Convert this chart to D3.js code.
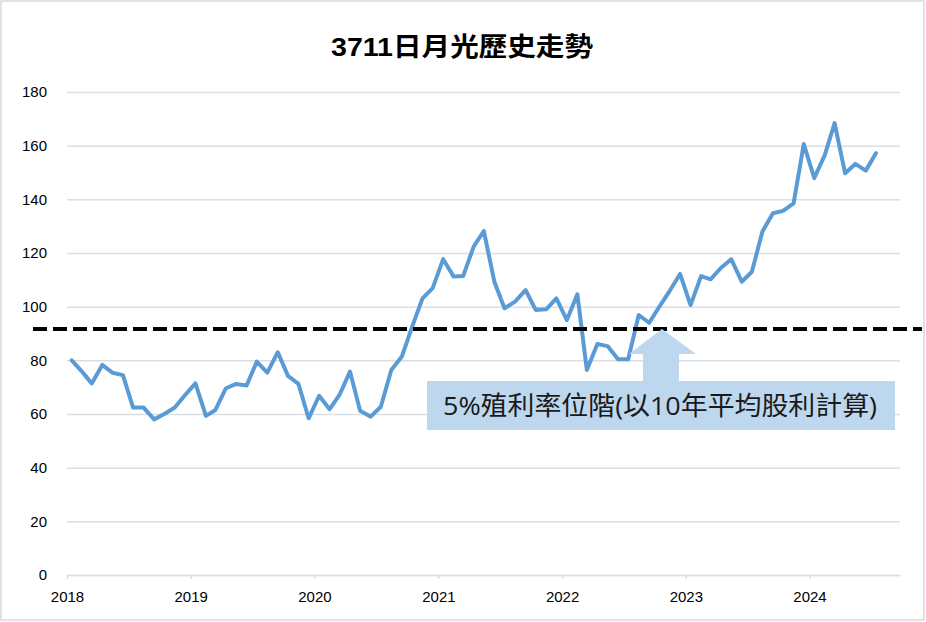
<!DOCTYPE html>
<html lang="zh-Hant">
  <head>
    <meta charset="utf-8">
    <title>3711日月光歷史走勢</title>
    <style>
      body {
          margin: 0;
          background: white;
      }
      svg {
          display: block;
      }
      .axis text {
          font-family: "Liberation Sans", Arial, sans-serif;
          font-size: 15px;
          fill: #000;
      }
    </style>
    <script src="https://d3js.org/d3.v7.min.js"></script>
  </head>
  <body>
    <div class="viz"></div>
    <script>

    // monthly closing price, Jan 2018 - Jul 2024
    const months = [
      "2018-01","2018-02","2018-03","2018-04","2018-05","2018-06","2018-07","2018-08","2018-09","2018-10","2018-11","2018-12",
      "2019-01","2019-02","2019-03","2019-04","2019-05","2019-06","2019-07","2019-08","2019-09","2019-10","2019-11","2019-12",
      "2020-01","2020-02","2020-03","2020-04","2020-05","2020-06","2020-07","2020-08","2020-09","2020-10","2020-11","2020-12",
      "2021-01","2021-02","2021-03","2021-04","2021-05","2021-06","2021-07","2021-08","2021-09","2021-10","2021-11","2021-12",
      "2022-01","2022-02","2022-03","2022-04","2022-05","2022-06","2022-07","2022-08","2022-09","2022-10","2022-11","2022-12",
      "2023-01","2023-02","2023-03","2023-04","2023-05","2023-06","2023-07","2023-08","2023-09","2023-10","2023-11","2023-12",
      "2024-01","2024-02","2024-03","2024-04","2024-05","2024-06","2024-07"
    ]
    const prices = [
      80, 75.7, 71.4, 78.3, 75.4, 74.5, 62.4, 62.4, 58, 60, 62.4, 67,
      71.4, 59.3, 61.5, 69.6, 71.2, 70.6, 79.5, 75.4, 83, 74.2, 71.2, 58.4,
      66.8, 61.8, 67.1, 75.8, 61.2, 59, 62.7, 76.4, 81.4, 92.4, 103.1, 106.9,
      117.7, 111.2, 111.4, 122.4, 128.2, 109.3, 99.4, 101.9, 106.2, 98.8, 99, 103.1,
      95, 104.6, 76.4, 86.1, 85.3, 80.4, 80.4, 96.9, 94, 100, 106, 112.2,
      100.6, 111.4, 110.2, 114.5, 117.7, 109.3, 113, 128, 134.8, 135.7, 138.5, 160.6,
      147.9, 156.5, 168.4, 149.7, 153.2, 150.7, 157.2
    ]
    const yTicks = [0, 20, 40, 60, 80, 100, 120, 140, 160, 180]
    const yieldLevel = 91.7
    const chartTitle = "3711日月光歷史走勢"
    const noteText = "5%殖利率位階(以10年平均股利計算)"

    const width = 926, height = 622
    const margin = { top: 92, right: 26, bottom: 47, left: 67 }

    const parseMonth = d3.timeParse("%Y-%m")
    const data = months.map((m, i) => ({
      date: d3.timeDay.offset(parseMonth(m), 14),
      price: prices[i]
    }))

    const svg = d3.select(".viz")
      .append("svg")
      .attr("width", width)
      .attr("height", height)

    // chart frame
    svg.append("rect")
      .attr("x", 1).attr("y", 1)
      .attr("width", width - 3).attr("height", height - 3)
      .attr("fill", "white")
      .attr("stroke", "#d9d9d9")
      .attr("stroke-width", 1.5)

    const x = d3.scaleTime()
      .domain([new Date(2018, 0, 1), new Date(2024, 8, 24)])
      .range([margin.left, width - margin.right])

    const y = d3.scaleLinear()
      .domain([0, 180])
      .range([height - margin.bottom, margin.top])

    // y gridlines + labels
    const yAxis = svg.append("g")
      .attr("class", "axis")
      .attr("transform", `translate(${margin.left},0)`)
      .call(d3.axisLeft(y).tickValues(yTicks)
        .tickSize(-(width - margin.right - margin.left))
        .tickPadding(20))
    yAxis.select(".domain").remove()
    yAxis.selectAll(".tick line")
      .attr("stroke", "#dadee5")
      .attr("stroke-width", 1.5)

    // x axis
    const xAxis = svg.append("g")
      .attr("class", "axis")
      .attr("transform", `translate(0,${y(0)})`)
      .call(d3.axisBottom(x).ticks(d3.timeYear.every(1))
        .tickFormat(d3.timeFormat("%Y"))
        .tickSizeInner(4).tickSizeOuter(0).tickPadding(12))
    xAxis.select(".domain").attr("stroke", "#dadee5").attr("stroke-width", 1.5)
    xAxis.selectAll(".tick line").attr("stroke", "#dadee5").attr("stroke-width", 1.5)

    // price line
    const line = d3.line()
      .x(d => x(d.date))
      .y(d => y(d.price))

    svg.append("path")
      .datum(data)
      .attr("d", line)
      .attr("fill", "none")
      .attr("stroke", "#5b9bd5")
      .attr("stroke-width", 4)
      .attr("stroke-linejoin", "round")
      .attr("stroke-linecap", "round")

    // 5% yield level
    svg.append("line")
      .attr("x1", 33).attr("x2", 922)
      .attr("y1", y(yieldLevel)).attr("y2", y(yieldLevel))
      .attr("stroke", "black")
      .attr("stroke-width", 4)
      .attr("stroke-dasharray", "14 6")

    // arrow + note box
    const tipX = 662, tipY = y(yieldLevel)
    const boxTop = 381
    const arrow = d3.path()
    arrow.moveTo(tipX, tipY)
    arrow.lineTo(696, 354)
    arrow.lineTo(679, 354)
    arrow.lineTo(679, boxTop)
    arrow.lineTo(643, boxTop)
    arrow.lineTo(643, 354)
    arrow.lineTo(629, 354)
    arrow.closePath()
    svg.append("path")
      .attr("d", arrow)
      .attr("fill", "#bdd7ee")

    svg.append("rect")
      .attr("x", 427).attr("y", boxTop)
      .attr("width", 468).attr("height", 49)
      .attr("fill", "#bdd7ee")

    svg.append("text")
      .attr("x", 443).attr("y", 415)
      .text(noteText)
      .attr("textLength", 434)
      .attr("lengthAdjust", "spacingAndGlyphs")
      .style("font-family", "'Open Sans', 'Noto Sans CJK TC', sans-serif")
      .style("font-size", "26px")
      .style("fill", "#1a1a1a")

    // title
    svg.append("text")
      .attr("x", 462).attr("y", 56)
      .attr("text-anchor", "middle")
      .text(chartTitle)
      .attr("textLength", 262)
      .attr("lengthAdjust", "spacingAndGlyphs")
      .style("font-family", "'Liberation Sans', 'Noto Sans CJK TC', sans-serif")
      .style("font-size", "26px")
      .style("font-weight", "bold")
      .style("fill", "#000")

    </script>
  </body>
</html>
